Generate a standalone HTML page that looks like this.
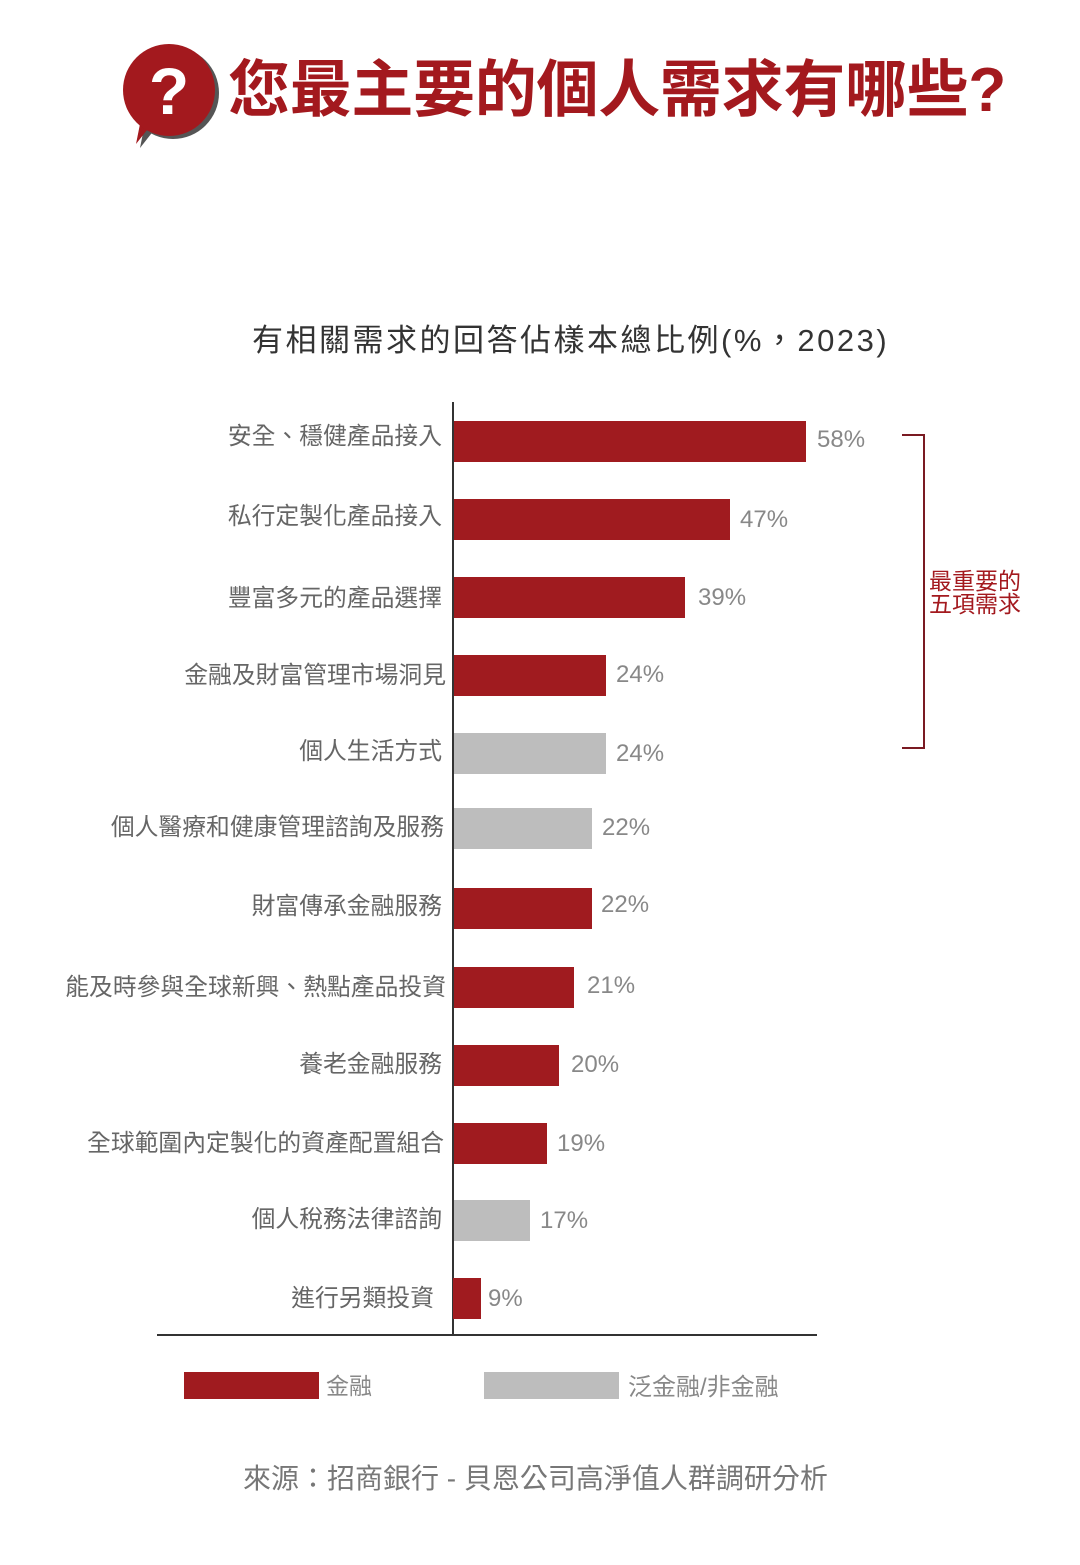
<!DOCTYPE html>
<html><head><meta charset="utf-8"><style>
body{margin:0;background:#fff;}
#c{position:relative;width:1080px;height:1565px;overflow:hidden;font-family:"Liberation Sans","Noto Sans CJK TC",sans-serif;}
.a{position:absolute;white-space:nowrap;}
.lab{position:absolute;right:638px;font-size:23.8px;color:#666;line-height:1;}
.bar{position:absolute;left:454px;height:41px;}
.r{background:#a01b1f;}
.g{background:#bdbdbd;}
.v{position:absolute;font-size:24px;color:#888;line-height:1;}
</style></head><body><div id="c">
<svg class="a" style="left:118px;top:40px" width="110" height="115">
<path d="M22 108 L28 78 L44 80 Z" fill="#555"/>
<circle cx="55" cy="53" r="46" fill="#555"/>
<path d="M18 104 L24 74 L40 76 Z" fill="#a3191e"/>
<circle cx="51" cy="50" r="46" fill="#a3191e"/>
<text x="51" y="74" font-size="66" font-weight="bold" fill="#fff" text-anchor="middle" font-family="Liberation Sans">?</text>
</svg>
<div class="a" style="left:228px;top:60px;font-size:62px;font-weight:bold;color:#a3191e;line-height:1;letter-spacing:-0.3px">您最主要的個人需求有哪些?</div>
<div class="a" style="left:252px;top:325px;font-size:31px;color:#333;line-height:1;letter-spacing:2.5px">有相關需求的回答佔樣本總比例(%，2023)</div>
<div class="a" style="left:452px;top:402px;width:2px;height:934px;background:#333"></div>
<div class="a" style="left:157px;top:1334px;width:660px;height:2px;background:#333"></div>

<div class="lab" style="top:425px">安全、穩健產品接入</div>
<div class="bar r" style="top:421px;width:352px"></div><div class="v" style="left:817px;top:428px">58%</div>
<div class="lab" style="top:505px">私行定製化產品接入</div>
<div class="bar r" style="top:499px;width:276px"></div><div class="v" style="left:740px;top:508px">47%</div>
<div class="lab" style="top:587px">豐富多元的產品選擇</div>
<div class="bar r" style="top:577px;width:231px"></div><div class="v" style="left:698px;top:586px">39%</div>
<div class="lab" style="top:664px;right:634px">金融及財富管理市場洞見</div>
<div class="bar r" style="top:655px;width:152px"></div><div class="v" style="left:616px;top:663px">24%</div>
<div class="lab" style="top:740px">個人生活方式</div>
<div class="bar g" style="top:733px;width:152px"></div><div class="v" style="left:616px;top:742px">24%</div>
<div class="lab" style="top:816px;right:636px">個人醫療和健康管理諮詢及服務</div>
<div class="bar g" style="top:808px;width:138px"></div><div class="v" style="left:602px;top:816px">22%</div>
<div class="lab" style="top:895px">財富傳承金融服務</div>
<div class="bar r" style="top:888px;width:138px"></div><div class="v" style="left:601px;top:893px">22%</div>
<div class="lab" style="top:976px;right:634px">能及時參與全球新興、熱點產品投資</div>
<div class="bar r" style="top:967px;width:120px"></div><div class="v" style="left:587px;top:974px">21%</div>
<div class="lab" style="top:1053px">養老金融服務</div>
<div class="bar r" style="top:1045px;width:105px"></div><div class="v" style="left:571px;top:1053px">20%</div>
<div class="lab" style="top:1132px;right:636px">全球範圍內定製化的資產配置組合</div>
<div class="bar r" style="top:1123px;width:93px"></div><div class="v" style="left:557px;top:1132px">19%</div>
<div class="lab" style="top:1208px">個人稅務法律諮詢</div>
<div class="bar g" style="top:1200px;width:76px"></div><div class="v" style="left:540px;top:1209px">17%</div>
<div class="lab" style="top:1287px;right:646px">進行另類投資</div>
<div class="bar r" style="top:1278px;left:453px;width:28px"></div><div class="v" style="left:488px;top:1287px">9%</div>

<div class="a" style="left:902px;top:434px;width:21px;height:311px;border:2px solid #7a1a22;border-left:none"></div>
<div class="a" style="left:929px;top:570px;font-size:23px;color:#a3191e;line-height:23px">最重要的<br>五項需求</div>

<div class="a" style="left:184px;top:1372px;width:135px;height:27px;background:#a01b1f"></div>
<div class="a" style="left:326px;top:1367px;font-size:23px;color:#888">金融</div>
<div class="a" style="left:484px;top:1372px;width:135px;height:27px;background:#bdbdbd"></div>
<div class="a" style="left:628px;top:1367px;font-size:24px;color:#888">泛金融/非金融</div>
<div class="a" style="left:243px;top:1465px;font-size:28px;color:#777;line-height:1">來源：招商銀行 - 貝恩公司高淨值人群調研分析</div>
</div></body></html>
